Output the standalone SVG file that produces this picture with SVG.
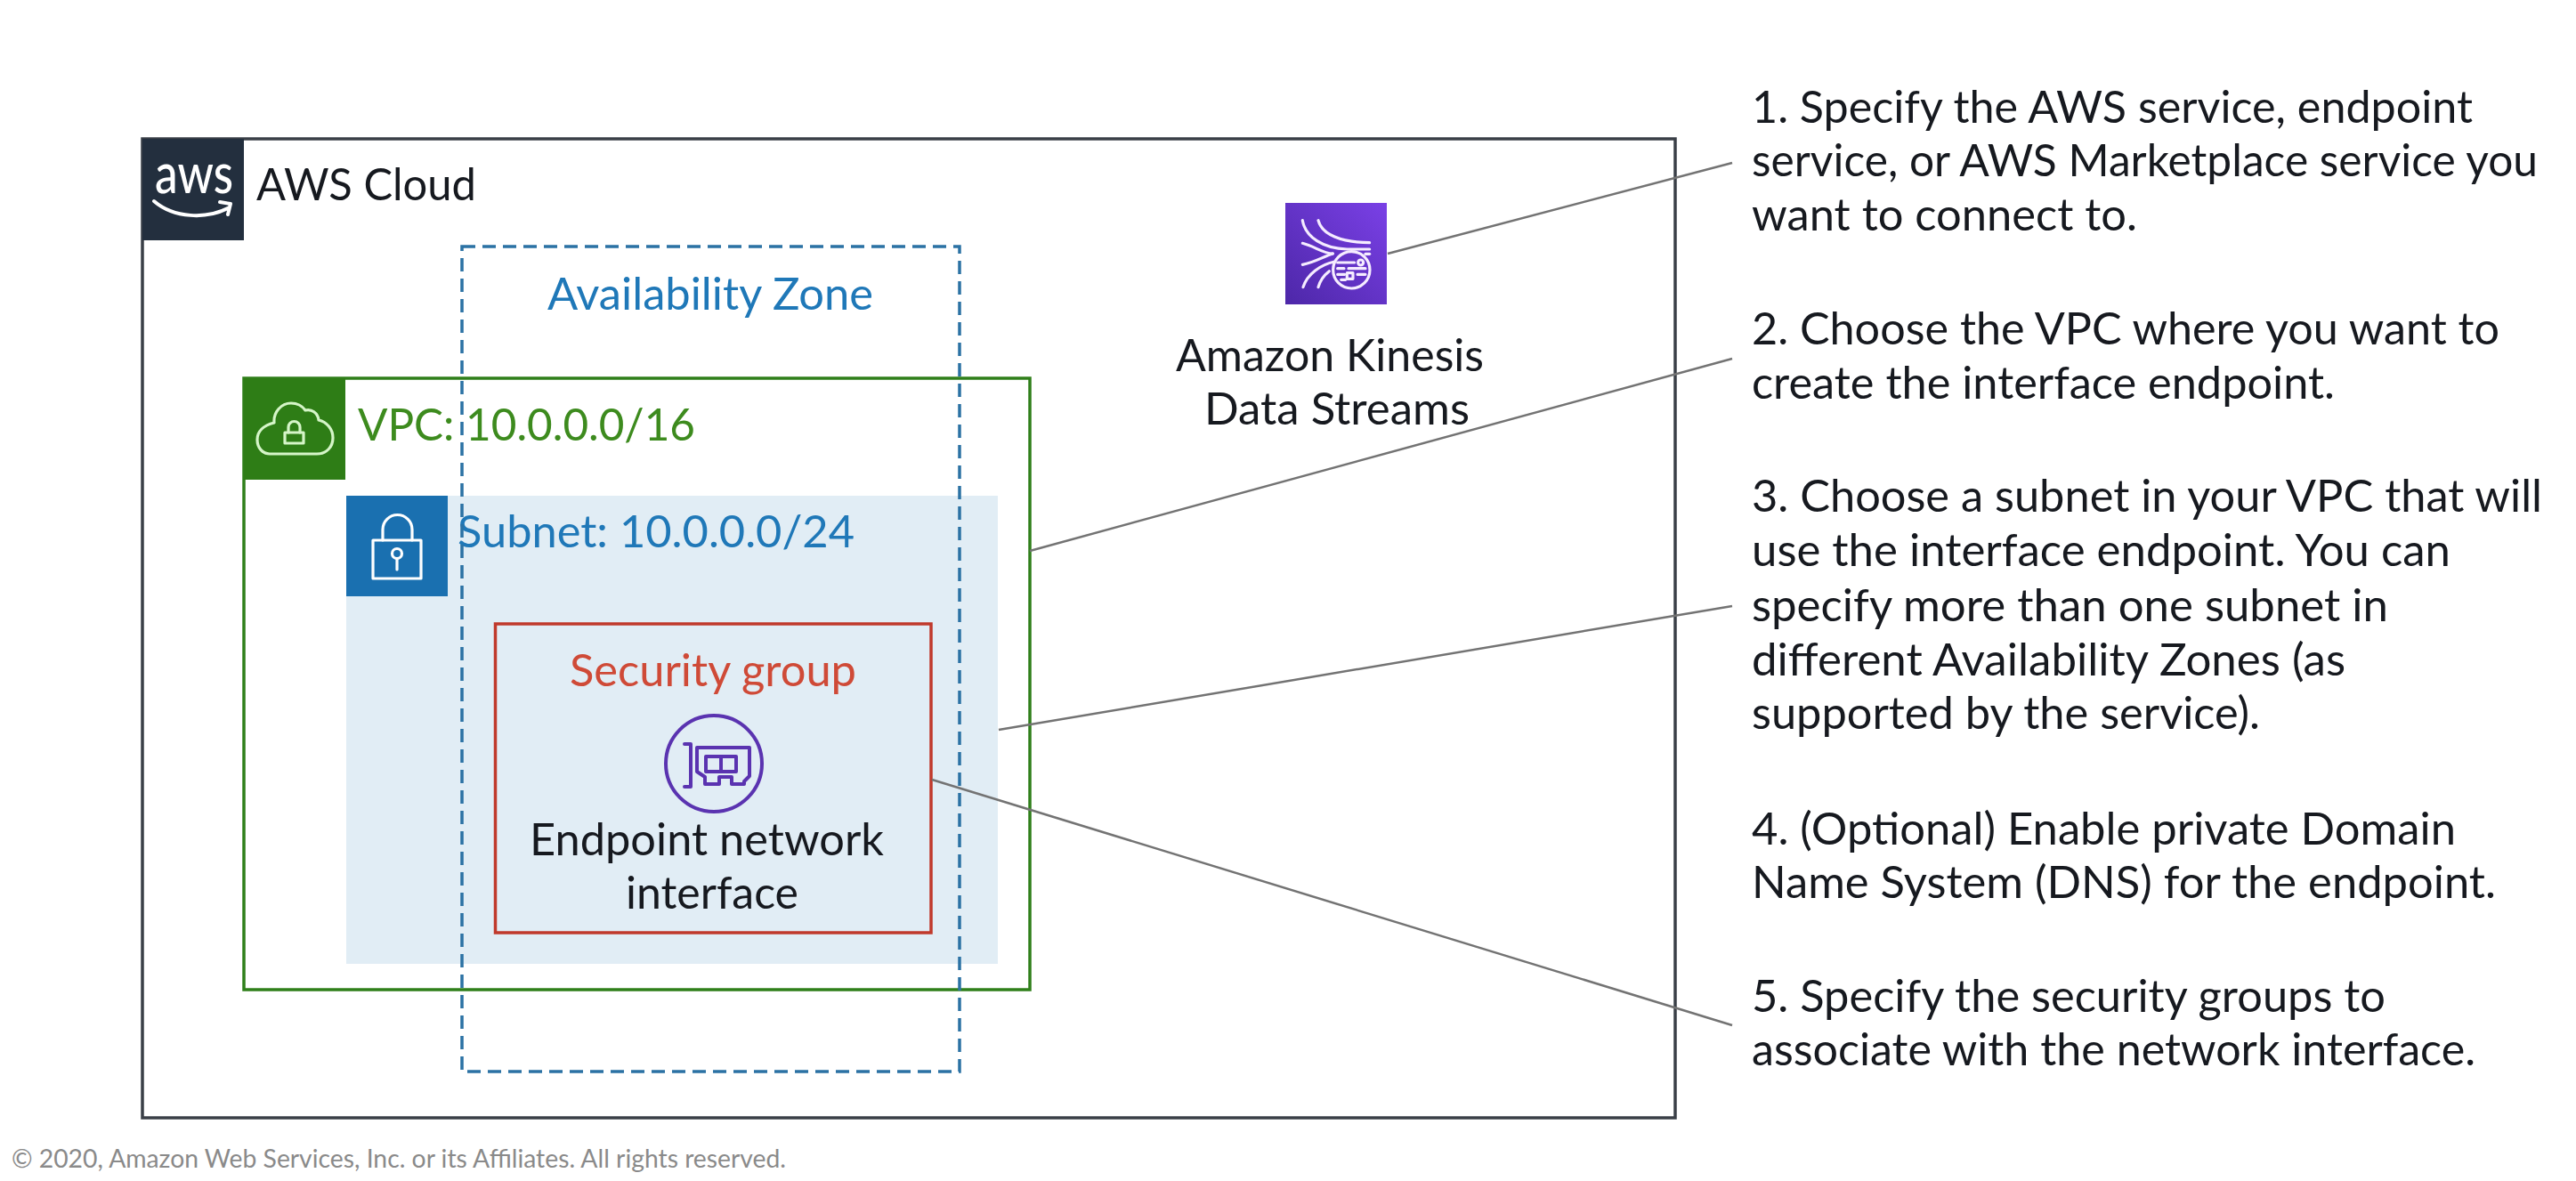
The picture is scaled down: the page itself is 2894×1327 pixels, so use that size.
<svg xmlns="http://www.w3.org/2000/svg" width="2894" height="1327" viewBox="0 0 2894 1327">
<style>
text{font-family:"Lato","Noto Sans",sans-serif;font-size:50px;fill:#16191f}
.frame{fill:none;stroke-width:3.5}
.ln{stroke:#737373;stroke-width:2.5;fill:none}
.ic{fill:none;stroke-linecap:round;stroke-linejoin:round}
</style>
<defs><linearGradient id="kin" x1="0" y1="1" x2="1" y2="0"><stop offset="0" stop-color="#4d27a8"/><stop offset="1" stop-color="#7a40e6"/></linearGradient></defs>
<rect width="2894" height="1327" fill="#fff"/>
<g id="aws-cloud">
<rect class="frame" x="160" y="156" width="1722" height="1100" stroke="#3a3f47"/>
<rect x="160" y="156" width="114" height="114" fill="#232f3e"/>
<text x="174" y="217" style="font-size:62px;fill:#fff;font-weight:500" textLength="88" lengthAdjust="spacingAndGlyphs">aws</text>
<path class="ic" d="M173,226 C195,245 232,247 258,233 M247,227 L259,229 L256,241" stroke="#fff" stroke-width="4"/>
<text x="288" y="225" textLength="247" lengthAdjust="spacingAndGlyphs">AWS Cloud</text>
</g>
<g id="vpc">
<rect class="frame" x="274" y="425" width="883" height="687" stroke="#2f7f1a"/>
<rect x="274" y="425" width="114" height="114" fill="#2e7d16"/>
<path class="ic" d="M303,510 H356 C367,510 374,502 374,492 C374,482 367,474 358,472 C357,464 350,459 343,461 C338,454 331,453 327,453 C316,453 307,463 308,475 C296,478 289,485 289,494 C289,503 295,510 303,510 Z" stroke="#d5f5c8" stroke-width="3.2"/>
<rect class="ic" x="320" y="486" width="21" height="12" stroke="#d5f5c8" stroke-width="3.2"/>
<path class="ic" d="M324,486 V480 A6.500,6.500 0 0 1 337,480 V486" stroke="#d5f5c8" stroke-width="3.2"/>
<text x="402" y="495" style="fill:#3d8b1e" textLength="379" lengthAdjust="spacingAndGlyphs">VPC: 10.0.0.0/16</text>
</g>
<g id="subnet">
<rect x="389" y="557" width="732" height="526" fill="#e1edf5"/>
<rect x="389" y="557" width="114" height="113" fill="#1a70b0"/>
<rect class="ic" x="419" y="607" width="54" height="43" stroke="#fff" stroke-width="3.200"/>
<path class="ic" d="M430,607 V595 A16.500,16.500 0 0 1 463,595 V607" stroke="#fff" stroke-width="3.200"/>
<circle class="ic" cx="446" cy="622" r="5.500" stroke="#fff" stroke-width="3.200"/>
<path class="ic" d="M446,628 V640" stroke="#fff" stroke-width="3.200"/>
<text x="514" y="615" style="fill:#1f78b8" textLength="446" lengthAdjust="spacingAndGlyphs">Subnet: 10.0.0.0/24</text>
</g>
<g id="security-group">
<rect class="frame" x="556.500" y="701" width="489.500" height="347" stroke="#c0392b"/>
<text x="640" y="771" style="fill:#cf4a37" textLength="322" lengthAdjust="spacingAndGlyphs">Security group</text>
</g>
<g id="endpoint-network-interface">
<circle class="ic" cx="802" cy="858" r="54" stroke="#5a33b0" stroke-width="4"/>
<path class="ic" d="M769,836 H776 V884 H769" stroke="#5a33b0" stroke-width="4"/>
<path class="ic" d="M783,840 H842 V872 L836,878 V881 H822 V873 H808 V881 H792 V873 L783,867 Z" stroke="#5a33b0" stroke-width="4"/>
<rect class="ic" x="793" y="850" width="34" height="17" stroke="#5a33b0" stroke-width="4"/>
<path class="ic" d="M810,850 V867" stroke="#5a33b0" stroke-width="4"/>
<text x="595" y="961" textLength="398" lengthAdjust="spacingAndGlyphs">Endpoint network</text>
<text x="703" y="1021" textLength="194" lengthAdjust="spacingAndGlyphs">interface</text>
</g>
<g id="availability-zone">
<rect x="519" y="277" width="559" height="927" fill="none" stroke="#2b72a4" stroke-width="3.500" stroke-dasharray="15 8"/>
<text x="615" y="348" style="fill:#1f78b8" textLength="366" lengthAdjust="spacingAndGlyphs">Availability Zone</text>
</g>
<g id="kinesis">
<rect x="1444" y="228" width="114" height="114" fill="url(#kin)"/>
<g transform="translate(1280,180) scale(0.3333)" class="ic" stroke="#f5ecff" stroke-width="9.500">
<path d="M550,203 C560,260 620,298 700,300 H776"/>
<path d="M603,203 C615,250 680,278 776,278"/>
<path d="M550,280 C590,290 620,315 652,315"/>
<path d="M550,352 C590,345 620,325 652,315"/>
<path d="M552,428 C565,385 610,352 658,342"/>
<path d="M603,428 C610,402 622,388 640,374"/>
<path d="M762,316 H776"/>
<circle cx="715" cy="370" r="62"/>
<path d="M668,345 H725 M668,365 H690 M705,365 H762 M668,385 H692 M735,385 H762 M680,403 H695"/>
<circle cx="746" cy="345" r="9"/>
<rect x="700" y="380" width="20" height="20"/>
</g>
<text x="1321" y="417" textLength="346" lengthAdjust="spacingAndGlyphs">Amazon Kinesis</text>
<text x="1353" y="477" textLength="298" lengthAdjust="spacingAndGlyphs">Data Streams</text>
</g>
<g id="connectors">
<path class="ln" d="M1559,285 L1946,183"/>
<path class="ln" d="M1157,619 L1946,403"/>
<path class="ln" d="M1122,820 L1946,681"/>
<path class="ln" d="M1047,876 L1946,1152"/>
</g>
<g id="steps">
<text x="1968" y="138" textLength="810" lengthAdjust="spacingAndGlyphs">1. Specify the AWS service, endpoint</text>
<text x="1968" y="198" textLength="883" lengthAdjust="spacingAndGlyphs">service, or AWS Marketplace service you</text>
<text x="1968" y="259" textLength="433" lengthAdjust="spacingAndGlyphs">want to connect to.</text>
<text x="1968" y="387" textLength="840" lengthAdjust="spacingAndGlyphs">2. Choose the VPC where you want to</text>
<text x="1968" y="448" textLength="655" lengthAdjust="spacingAndGlyphs">create the interface endpoint.</text>
<text x="1968" y="575" textLength="888" lengthAdjust="spacingAndGlyphs">3. Choose a subnet in your VPC that will</text>
<text x="1968" y="636" textLength="785" lengthAdjust="spacingAndGlyphs">use the interface endpoint. You can</text>
<text x="1968" y="698" textLength="715" lengthAdjust="spacingAndGlyphs">specify more than one subnet in</text>
<text x="1968" y="759" textLength="667" lengthAdjust="spacingAndGlyphs">different Availability Zones (as</text>
<text x="1968" y="819" textLength="571" lengthAdjust="spacingAndGlyphs">supported by the service).</text>
<text x="1968" y="949" textLength="791" lengthAdjust="spacingAndGlyphs">4. (Optional) Enable private Domain</text>
<text x="1968" y="1009" textLength="836" lengthAdjust="spacingAndGlyphs">Name System (DNS) for the endpoint.</text>
<text x="1968" y="1137" textLength="712" lengthAdjust="spacingAndGlyphs">5. Specify the security groups to</text>
<text x="1968" y="1197" textLength="813" lengthAdjust="spacingAndGlyphs">associate with the network interface.</text>
</g>
<text x="13" y="1312" style="font-size:28px;fill:#8a8a8a" textLength="870" lengthAdjust="spacingAndGlyphs">© 2020, Amazon Web Services, Inc. or its Affiliates. All rights reserved.</text>
</svg>
